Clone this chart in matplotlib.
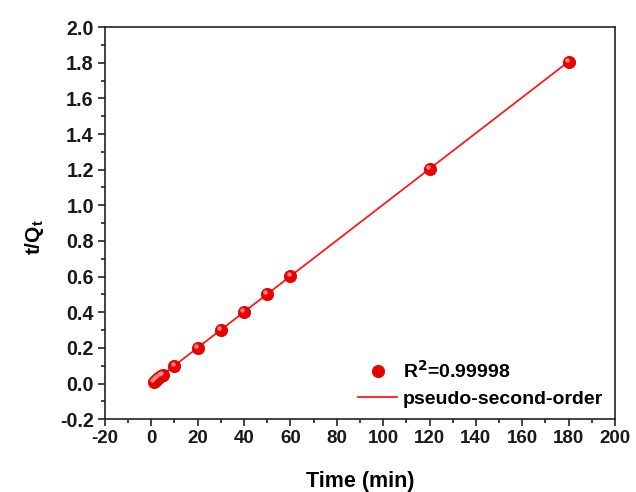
import numpy as np
import matplotlib
matplotlib.use("Agg")
import matplotlib.pyplot as plt
from matplotlib.ticker import MultipleLocator
from matplotlib import transforms

plt.rcParams['font.family'] = ['Liberation Sans', 'DejaVu Sans']
plt.rcParams['font.weight'] = 'bold'
plt.rcParams['axes.unicode_minus'] = False

# Kinetic data: contact time (min) and t/Qt
time_min = [1, 2, 3, 4, 5, 10, 20, 30, 40, 50, 60, 120, 180]
t_over_q = [0.010, 0.020, 0.030, 0.040, 0.050, 0.100, 0.201, 0.302, 0.402, 0.503, 0.604, 1.205, 1.805]
x_ticks = [-20, 0, 20, 40, 60, 80, 100, 120, 140, 160, 180, 200]
y_ticks = [-0.2, 0.0, 0.2, 0.4, 0.6, 0.8, 1.0, 1.2, 1.4, 1.6, 1.8, 2.0]

fig = plt.figure(figsize=(6.36, 4.92), dpi=100)
ax = fig.add_axes([0.165, 0.148, 0.802, 0.797])

ax.plot(time_min, t_over_q, 'o', color='#ea0000', markersize=8.8,
        markeredgecolor='#d40000', markeredgewidth=0.6, zorder=3,
        label='R$^2$=0.99998')
# specular highlight on the sphere markers
hl = transforms.offset_copy(ax.transData, fig=fig, x=-1.3, y=1.5, units='points')
ax.plot(time_min, t_over_q, 'o', color='#ff8f8f', markersize=3.2,
        markeredgewidth=0, transform=hl, zorder=4, alpha=0.9)

# Linear pseudo-second-order fit
slope, intercept = np.polyfit(time_min, t_over_q, 1)
xf = np.array([0, max(time_min)])
ax.plot(xf, slope * xf + intercept, color='#ff1a1a', lw=1.3, zorder=2,
        label='pseudo-second-order')

ax.set_xlim(-20, 200)
ax.set_ylim(-0.2, 2.0)
ax.set_xticks(x_ticks)
ax.set_yticks(y_ticks)
ax.set_yticklabels([f"{v:.1f}" for v in y_ticks])
ax.xaxis.set_minor_locator(MultipleLocator(10))
ax.yaxis.set_minor_locator(MultipleLocator(0.1))
ax.tick_params(which='both', direction='out', top=False, right=False,
               width=1.2, color='#222222', labelcolor='#1a1a1a')
ax.tick_params(axis='x', labelsize=13.5)
ax.tick_params(axis='y', labelsize=14.2)
ax.tick_params(which='major', length=5, pad=3)
ax.tick_params(which='minor', length=3)
for s in ax.spines.values():
    s.set_linewidth(1.2)
    s.set_color('#222222')

ax.set_xlabel('Time (min)', fontsize=15.5, fontweight='bold')
ax.set_ylabel('t/Q$_\\mathregular{t}$', fontsize=15, fontweight='bold')
ax.xaxis.set_label_coords(0.5, -0.133)
ax.yaxis.set_label_coords(-0.116, 0.464)

handles, labels = ax.get_legend_handles_labels()
order = [labels.index('R$^2$=0.99998'), labels.index('pseudo-second-order')]
leg = ax.legend([handles[i] for i in order], [labels[i] for i in order],
                loc='lower right', frameon=False, fontsize=14,
                handlelength=2.0, borderaxespad=0.2, labelspacing=0.4,
                handletextpad=0.3)

fig.savefig('out.png', dpi=100, facecolor='white')
